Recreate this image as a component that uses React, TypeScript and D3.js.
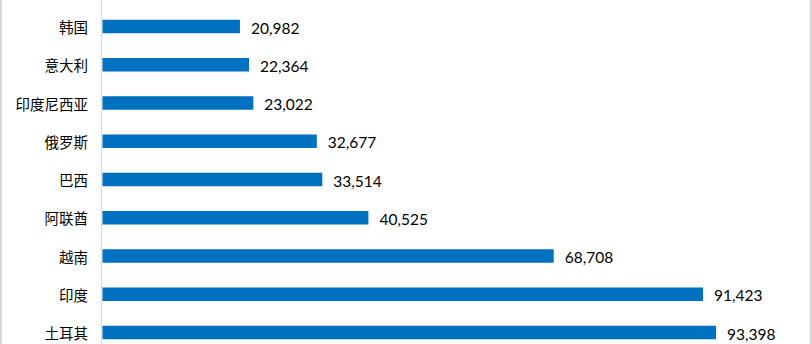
import React from "react";
import * as d3 from "d3";

const categories = ["韩国", "意大利", "印度尼西亚", "俄罗斯", "巴西", "阿联酋", "越南", "印度", "土耳其"];
const values = [20982, 22364, 23022, 32677, 33514, 40525, 68708, 91423, 93398];

const W = 812;
const H = 344;

export default function App() {
  const x = d3.scaleLinear().domain([0, 93398]).range([102, 716]);
  const y = d3.scalePoint<string>().domain(categories).range([26.5, 332.5]);
  const barH = 13.5;
  const fmt = d3.format(",");
  return (
    <svg width={W} height={H} style={{ position: "absolute", left: 0, top: 0, background: "#fff" }}>
      <rect x={0} y={0} width={W} height={H} fill="#fff" />
      <rect x={0} y={0} width={2} height={H} fill="#d9d9d9" />
      <rect x={809.5} y={0} width={2.5} height={H} fill="#d9d9d9" />
      <line x1={101.5} x2={101.5} y1={0} y2={H} stroke="#d9d9d9" strokeWidth={1.2} />
      {categories.map((c, i) => {
        const cy = y(c)!;
        return (
          <g key={c}>
            <rect x={x(0) + 0.5} y={cy - barH / 2} width={x(values[i]) - x(0) - 0.5} height={barH} fill="#0070C0" />
            <text
              x={88}
              y={cy}
              textAnchor="end"
              dominantBaseline="central"
              fontFamily="'Noto Sans CJK SC', sans-serif"
              fontSize={14.5}
              fill="#000"
            >
              {c}
            </text>
            <text
              x={x(values[i]) + 11}
              y={cy + 1}
              dominantBaseline="central"
              fontFamily="Lato, 'Open Sans', sans-serif"
              fontSize={15.5}
              fill="#000"
            >
              {fmt(values[i])}
            </text>
          </g>
        );
      })}
    </svg>
  );
}
